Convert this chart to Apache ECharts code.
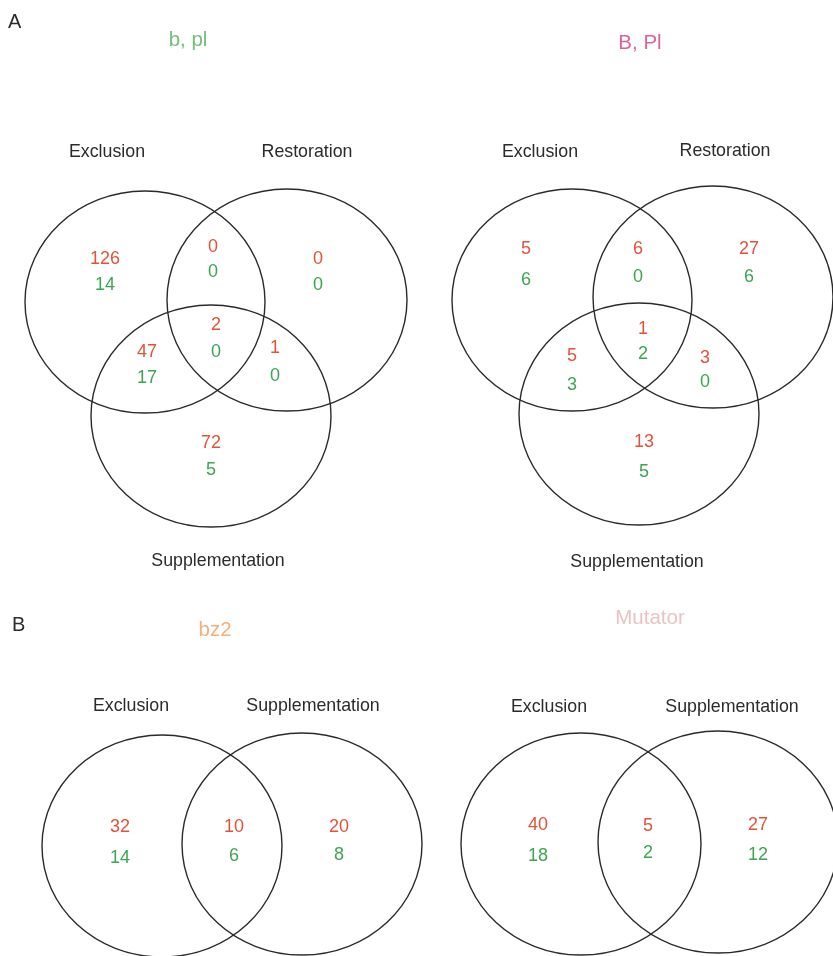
<!DOCTYPE html>
<html>
<head>
<meta charset="utf-8">
<style>
  html, body { margin: 0; padding: 0; background: #fff; }
  #chart { width: 833px; height: 956px; }
</style>
<script src="https://cdn.jsdelivr.net/npm/echarts@6/dist/echarts.min.js"></script>
</head>
<body>
<div id="chart"></div>
<script>
// ---- Region counts (red = first count, green = second count) ----
// Three-set diagrams: regions in order
const threeSetRegions = ['Exclusion only', 'Exclusion & Restoration', 'Restoration only',
  'Exclusion & Supplementation', 'All three', 'Restoration & Supplementation', 'Supplementation only'];
const threeSetNames = ['Exclusion', 'Restoration', 'Supplementation'];
const bplRed = [126, 0, 0, 47, 2, 1, 72];
const bplGreen = [14, 0, 0, 17, 0, 0, 5];
const BPlRed = [5, 6, 27, 5, 1, 3, 13];
const BPlGreen = [6, 0, 6, 3, 2, 0, 5];

// Two-set diagrams
const twoSetRegions = ['Exclusion only', 'Exclusion & Supplementation', 'Supplementation only'];
const twoSetNames = ['Exclusion', 'Supplementation'];
const bz2Red = [32, 10, 20];
const bz2Green = [14, 6, 8];
const mutatorRed = [40, 5, 27];
const mutatorGreen = [18, 2, 12];

// ---- Layout (page units on a hidden 833 x 956 plane) ----
const panels = [
  {
    title: 'b, pl', titleColor: '#74bf78', titlePos: [188, 40],
    red: bplRed, green: bplGreen, names: threeSetNames,
    circles: [[145, 302], [287, 300], [211, 416]],
    namePos: [[107, 152], [307, 152], [218, 561]],
    regionPos: [[105, 259, 285], [213, 247, 272], [318, 259, 285],
                [147, 352, 378], [216, 325, 352], [275, 348, 376], [211, 443, 470]]
  },
  {
    title: 'B, Pl', titleColor: '#e0619c', titlePos: [640, 43],
    red: BPlRed, green: BPlGreen, names: threeSetNames,
    circles: [[572, 300], [713, 297], [639, 414]],
    namePos: [[540, 152], [725, 151], [637, 562]],
    regionPos: [[526, 249, 280], [638, 249, 277], [749, 249, 277],
                [572, 356, 385], [643, 329, 354], [705, 358, 382], [644, 442, 472]]
  },
  {
    title: 'bz2', titleColor: '#f2b27a', titlePos: [215, 630],
    red: bz2Red, green: bz2Green, names: twoSetNames,
    circles: [[162, 846], [302, 844]],
    namePos: [[131, 706], [313, 706]],
    regionPos: [[120, 827, 858], [234, 827, 856], [339, 827, 855]]
  },
  {
    title: 'Mutator', titleColor: '#ecc3c5', titlePos: [650, 618],
    red: mutatorRed, green: mutatorGreen, names: twoSetNames,
    circles: [[581, 844], [718, 842]],
    namePos: [[549, 707], [732, 707]],
    regionPos: [[538, 825, 856], [648, 826, 853], [758, 825, 855]]
  }
];
const circleRadius = [120, 111];
const panelLetters = [['A', 8, 22], ['B', 12, 625]];

const RED = '#e2533a';
const GREEN = '#3ea550';
const INK = '#2b2b2b';
const FONT = 'Liberation Sans, Arial, sans-serif';

// ---- Build series data ----
const circleData = [];
const countData = [];   // [x, y, value, colorIndex]
const textData = [];    // [x, y, text, color, size]
panels.forEach(p => {
  p.circles.forEach(c => circleData.push([c[0], c[1], circleRadius[0], circleRadius[1]]));
  p.regionPos.forEach((pos, i) => {
    countData.push([pos[0], pos[1], p.red[i], 0]);
    countData.push([pos[0], pos[2], p.green[i], 1]);
  });
  p.names.forEach((n, i) => textData.push([p.namePos[i][0], p.namePos[i][1], n, INK, 17.8]));
  textData.push([p.titlePos[0], p.titlePos[1], p.title, p.titleColor, 20.5]);
});
panelLetters.forEach(l => textData.push([l[1], l[2], l[0], INK, 20]));

const chart = echarts.init(document.getElementById('chart'), null, { renderer: 'canvas' });
chart.setOption({
  backgroundColor: '#ffffff',
  animation: false,
  grid: { left: 0, top: 0, width: 833, height: 956, show: false },
  xAxis: { type: 'value', min: 0, max: 833, show: false },
  yAxis: { type: 'value', min: 0, max: 956, inverse: true, show: false },
  series: [
    {
      type: 'custom',
      name: 'sets',
      clip: false,
      silent: true,
      data: circleData,
      renderItem: function (params, api) {
        const c = api.coord([api.value(0), api.value(1)]);
        const s = api.size([api.value(2), api.value(3)]);
        return {
          type: 'ellipse',
          shape: { cx: c[0], cy: c[1], rx: s[0], ry: s[1] },
          style: { fill: null, stroke: '#2a2a2a', lineWidth: 1.4 }
        };
      }
    },
    {
      type: 'custom',
      name: 'counts',
      clip: false,
      silent: true,
      data: countData,
      renderItem: function (params, api) {
        const c = api.coord([api.value(0), api.value(1)]);
        return {
          type: 'text',
          x: c[0], y: c[1],
          style: {
            text: String(api.value(2)),
            fill: api.value(3) === 0 ? RED : GREEN,
            font: '18px ' + FONT,
            align: 'center',
            verticalAlign: 'middle'
          }
        };
      }
    },
    {
      type: 'custom',
      name: 'labels',
      clip: false,
      silent: true,
      data: textData,
      dimensions: ['x', 'y', { name: 'text', type: 'ordinal' }, { name: 'color', type: 'ordinal' }, 'size'],
      renderItem: function (params, api) {
        const d = textData[params.dataIndex];
        const c = api.coord([d[0], d[1]]);
        return {
          type: 'text',
          x: c[0], y: c[1],
          style: {
            text: d[2],
            fill: d[3],
            font: d[4] + 'px ' + FONT,
            align: d[2].length === 1 ? 'left' : 'center',
            verticalAlign: 'middle'
          }
        };
      }
    }
  ]
});
</script>
</body>
</html>
